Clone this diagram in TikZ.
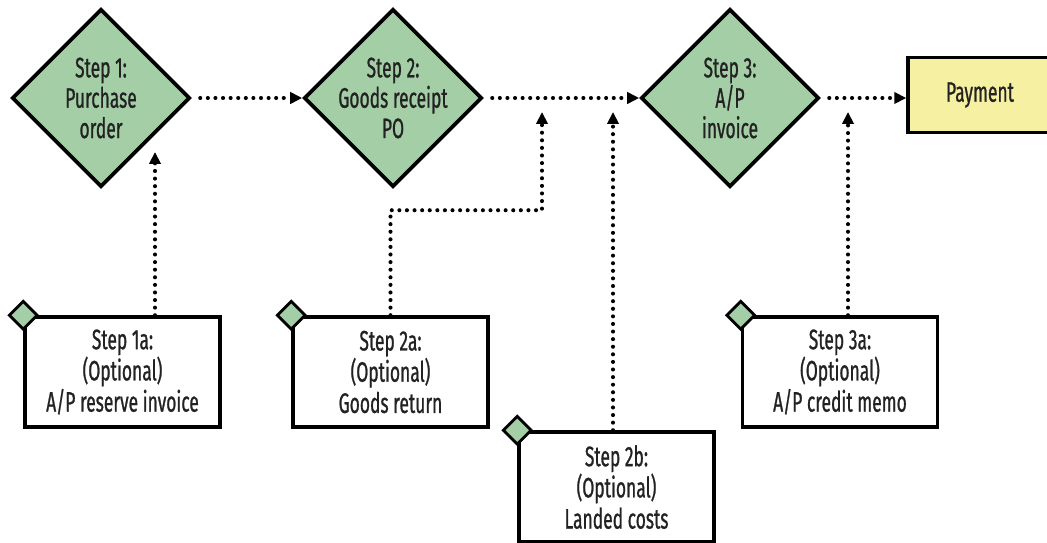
\documentclass[tikz,border=0pt]{standalone}
\usepackage{fontspec}
\setmainfont{Fira Sans}[FakeStretch=0.62,FakeBold=0.8]
\usepackage{xcolor}
\usepackage{tikz}
\usetikzlibrary{shapes.geometric,arrows.meta,positioning,calc}

\definecolor{stepgreen}{HTML}{A4CFA6}
\definecolor{payyellow}{HTML}{F6F1A2}
\definecolor{ink}{HTML}{222222}

\begin{document}
\begin{tikzpicture}[
  stepnode/.style={diamond, draw=black, line width=2.6pt, fill=stepgreen,
              minimum width=4.45cm, minimum height=4.45cm, inner sep=0pt},
  steptext/.style={font=\fontsize{20}{21.6}\selectfont, text=ink, align=center},
  optbox/.style={rectangle, draw=black, line width=2.5pt, fill=white,
              minimum width=4.875cm, minimum height=2.75cm, align=center,
              font=\fontsize{20}{22.2}\selectfont, text=ink},
  paybox/.style={rectangle, draw=black, line width=2.5pt, fill=payyellow,
              minimum width=3.6cm, minimum height=1.88cm,
              font=\fontsize{20}{21.6}\selectfont, text=ink},
  cornermark/.style={diamond, draw=black, line width=2pt, fill=stepgreen,
              minimum width=0.72cm, minimum height=0.72cm, inner sep=0pt},
  flow/.style={draw, line width=2.9pt, line cap=round,
              dash pattern=on 0pt off 5.4pt,
              -{Triangle[length=8.5pt,width=8pt]}},
]
\useasboundingbox (0,0) rectangle (26.175,-13.575);

% Main steps
\node[stepnode, label={[steptext]center:{Step 1:\\Purchase\\order}}] (S1) at (2.525,-2.45) {};
\node[stepnode, label={[steptext]center:{Step 2:\\Goods receipt\\PO}}] (S2) at (9.825,-2.45) {};
\node[stepnode, label={[steptext]center:{Step 3:\\A/P\\invoice}}] (S3) at (18.25,-2.45) {};
\node[paybox] (PAY) at (24.5,-2.375) {Payment};

% Optional steps
\node[optbox] (S1a) at (3.0625,-9.3) {Step 1a:\\(Optional)\\A/P reserve invoice};
\node[optbox] (S2a) at (9.7625,-9.3) {Step 2a:\\(Optional)\\Goods return};
\node[optbox] (S2b) at (15.4125,-12.175) {Step 2b:\\(Optional)\\Landed costs};
\node[optbox] (S3a) at (21.0,-9.3) {Step 3a:\\(Optional)\\A/P credit memo};

\node[cornermark] (M1a) at (S1a.north west) {};
\node[cornermark] (M2a) at (S2a.north west) {};
\node[cornermark] (M2b) at (S2b.north west) {};
\node[cornermark] (M3a) at (S3a.north west) {};

% Arrow ends
\coordinate (T1a) at (3.875,-3.8);
\coordinate (T2a) at (13.55,-2.8);
\coordinate (T2b) at (15.325,-2.8);
\coordinate (T3a) at (21.2,-2.8);

% Flow
\draw[flow, shorten <=6pt] (S1.east) -- (S2.west);
\draw[flow, shorten <=6pt] (S2.east) -- (S3.west);
\draw[flow, shorten <=6pt] (S3.east) -- (S3.east -| PAY.west);

\draw[flow] (S1a.north -| T1a) -- (T1a);
\draw[flow] (S2a.north) -- ++(0,2.625) -| (T2a);
\draw[flow] (S2b.north -| T2b) -- (T2b);
\draw[flow] (S3a.north -| T3a) -- (T3a);
\end{tikzpicture}
\end{document}
